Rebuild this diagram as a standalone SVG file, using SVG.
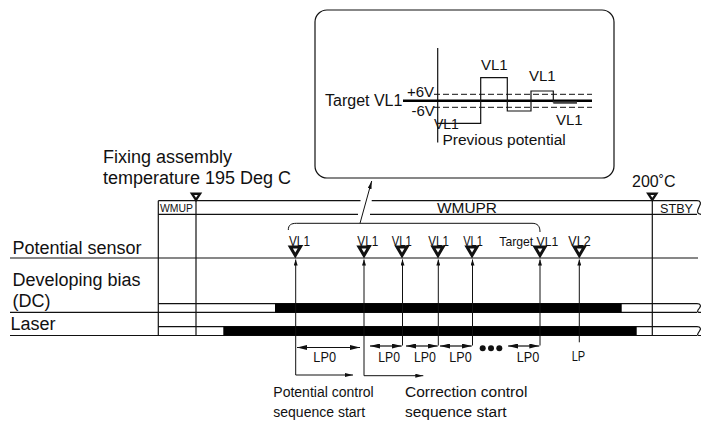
<svg xmlns="http://www.w3.org/2000/svg" width="704" height="421" viewBox="0 0 704 421">
<style>
text{font-family:"Liberation Sans",Arial,sans-serif;fill:#111}
.lbl{font-size:18px}
.sm{font-size:15px}
.ln{stroke:#111;stroke-width:1.2;fill:none}
.thin{stroke:#111;stroke-width:1;fill:none}
.tri{fill:#fff;stroke:#111;stroke-width:3;stroke-linejoin:miter}
.tris{fill:#fff;stroke:#111;stroke-width:2.4;stroke-linejoin:miter}
.bar{fill:#000}
</style>
<defs>
<marker id="up" viewBox="0 0 6 4" refX="6" refY="2" markerWidth="6" markerHeight="4" markerUnits="userSpaceOnUse" orient="auto"><path d="M0,0 L6,2 L0,4 z" fill="#111"/></marker>
<marker id="dbl" viewBox="0 0 10 5" refX="10" refY="2.5" markerWidth="10" markerHeight="5" markerUnits="userSpaceOnUse" orient="auto-start-reverse"><path d="M0,0 L10,2.5 L0,5 z" fill="#111"/></marker>
<marker id="ah" viewBox="0 0 8 4" refX="8" refY="2" markerWidth="8" markerHeight="4" markerUnits="userSpaceOnUse" orient="auto"><path d="M0,0 L8,2 L0,4 z" fill="#111"/></marker>
<polygon id="tri" points="-5,0 5,0 0,8.5"/>
<polygon id="trs" points="-4,0 4,0 0,6"/>
</defs>

<!-- inset -->
<g id="inset">
<rect x="315" y="10" width="299" height="168" rx="12" class="ln"/>
<line x1="437.7" y1="48" x2="437.7" y2="142.5" class="ln"/>
<line x1="403" y1="100.7" x2="592" y2="100.7" stroke="#000" stroke-width="2.6"/>
<line x1="434" y1="94.3" x2="592" y2="94.3" class="thin" stroke-dasharray="6,3"/>
<line x1="434" y1="107.3" x2="592" y2="107.3" class="thin" stroke-dasharray="6,3"/>
<path d="M437.7,123.3 H480.7 V77.7 H507.3 V111 H531 V91 H553.3 V102.5" class="ln"/>
<line x1="553.3" y1="102.6" x2="577" y2="102.6" stroke="#444" stroke-width="2.4"/>
<text x="325" y="106" font-size="16">Target VL1</text>
<text x="407" y="97" class="sm">+6V</text>
<text x="411.5" y="116" class="sm">-6V</text>
<text x="434" y="128.5" font-size="14">VL1</text>
<text x="442.5" y="145" font-size="15.5">Previous potential</text>
<text x="481" y="70" class="sm">VL1</text>
<text x="529" y="81" class="sm">VL1</text>
<text x="556" y="124.5" class="sm">VL1</text>
</g>

<!-- labels -->
<g id="labels">
<text x="103" y="163" class="lbl">Fixing assembly</text>
<text x="103" y="184" class="lbl">temperature 195 Deg C</text>
<text x="632" y="187" font-size="16">200˚C</text>
<text x="12.5" y="254" class="lbl">Potential sensor</text>
<text x="12.5" y="286" class="lbl">Developing bias</text>
<text x="12.5" y="306.5" class="lbl">(DC)</text>
<text x="10.5" y="330" class="lbl">Laser</text>
</g>

<!-- header row -->
<g id="header">
<path d="M158.3,200.7 H360.5 M371.7,200.7 H697 M158.3,214.3 H358 M370,214.3 H697" class="ln"/>
<path d="M697,200.7 C701,200.7 701,203.5 699.5,206 L698,209.5 C697,212 697.5,214.3 701,214.3" class="ln"/>
<use href="#trs" x="196" y="193.8" class="tris"/>
<use href="#trs" x="652.3" y="193.8" class="tris"/>
<text x="160" y="212.3" font-size="11" textLength="33" lengthAdjust="spacingAndGlyphs">WMUP</text>
<text x="437" y="212.7" font-size="14" textLength="60" lengthAdjust="spacingAndGlyphs">WMUPR</text>
<text x="660" y="212.7" font-size="13" textLength="33" lengthAdjust="spacingAndGlyphs">STBY</text>
</g>

<!-- grid and timelines -->
<g id="grid">
<line x1="158.3" y1="200.7" x2="158.3" y2="335.5" class="ln"/>
<line x1="196" y1="200" x2="196" y2="335.5" class="ln"/>
<line x1="652.3" y1="200" x2="652.3" y2="335.5" class="ln"/>
<line x1="10" y1="258" x2="698" y2="258" class="ln"/>
<path d="M158.3,303.7 H697 M10,312.3 H697 M158.3,326.7 H697 M10,335.5 H697" class="ln"/>
<path d="M697,303.7 C701,303.7 701,306 699.5,308 L698,310 C697,312 697.5,312.3 701,312.3" class="ln"/>
<path d="M697,326.7 C701,326.7 701,329 699.5,331 L698,333.5 C697,335.5 697.5,335.5 701,335.5" class="ln"/>
<rect x="275" y="303.5" width="346.7" height="9" class="bar"/>
<rect x="223.3" y="326.5" width="413.4" height="9" class="bar"/>
</g>

<!-- sensor markers -->
<g id="sensor">
<use href="#tri" x="295.3" y="247" class="tri"/>
<use href="#tri" x="364" y="247" class="tri"/>
<use href="#tri" x="402" y="247" class="tri"/>
<use href="#tri" x="438" y="247" class="tri"/>
<use href="#tri" x="472" y="247" class="tri"/>
<use href="#tri" x="540" y="247" class="tri"/>
<use href="#tri" x="579.3" y="247" class="tri"/>
<text x="289" y="245.5" class="sm" textLength="21" lengthAdjust="spacingAndGlyphs">VL1</text>
<text x="357.3" y="245.5" class="sm" textLength="21" lengthAdjust="spacingAndGlyphs">VL1</text>
<text x="391.7" y="245.5" class="sm" textLength="20" lengthAdjust="spacingAndGlyphs">VL1</text>
<text x="428.3" y="245.5" class="sm" textLength="20.7" lengthAdjust="spacingAndGlyphs">VL1</text>
<text x="463.3" y="245.5" class="sm" textLength="19.5" lengthAdjust="spacingAndGlyphs">VL1</text>
<text x="499.3" y="245.5" font-size="13.5" textLength="59" lengthAdjust="spacingAndGlyphs">Target VL1</text>
<text x="568.3" y="245.5" class="sm" textLength="22.4" lengthAdjust="spacingAndGlyphs">VL2</text>
</g>

<!-- connectors -->
<g id="connectors">
<path d="M288.3,230 C288.3,225 291,223.3 296.7,223.3 H532 C537.5,223.3 540,226 540,232" class="thin"/>
<line x1="360" y1="223.3" x2="371.7" y2="181" class="thin" marker-end="url(#ah)"/>
<line x1="295.7" y1="375" x2="295.7" y2="259.5" class="thin" marker-end="url(#up)"/>
<line x1="295.7" y1="375" x2="353" y2="375" class="thin" marker-end="url(#ah)"/>
<line x1="364" y1="375.7" x2="364" y2="259.5" class="thin" marker-end="url(#up)"/>
<line x1="364" y1="375.7" x2="423.3" y2="375.7" class="thin" marker-end="url(#ah)"/>
<line x1="402.5" y1="345.5" x2="402.5" y2="259.5" class="thin" marker-end="url(#up)"/>
<line x1="438.3" y1="345.5" x2="438.3" y2="259.5" class="thin" marker-end="url(#up)"/>
<line x1="472.5" y1="345.5" x2="472.5" y2="259.5" class="thin" marker-end="url(#up)"/>
<line x1="540" y1="345.5" x2="540" y2="259.5" class="thin" marker-end="url(#up)"/>
<line x1="579.3" y1="342.3" x2="579.3" y2="259.5" class="thin" marker-end="url(#up)"/>
<line x1="297" y1="347.5" x2="360" y2="347.5" class="ln" marker-start="url(#dbl)" marker-end="url(#dbl)"/>
<line x1="370" y1="346" x2="401.7" y2="346" class="ln" marker-start="url(#dbl)" marker-end="url(#dbl)"/>
<line x1="406" y1="346" x2="437.7" y2="346" class="ln" marker-start="url(#dbl)" marker-end="url(#dbl)"/>
<line x1="440" y1="346" x2="471.7" y2="346" class="ln" marker-start="url(#dbl)" marker-end="url(#dbl)"/>
<line x1="508" y1="346" x2="539.3" y2="346" class="ln" marker-start="url(#dbl)" marker-end="url(#dbl)"/>
<circle cx="482.7" cy="348.3" r="3" fill="#111"/>
<circle cx="491" cy="348.3" r="3" fill="#111"/>
<circle cx="499.3" cy="348.3" r="3" fill="#111"/>
</g>

<!-- bottom labels -->
<g id="bottom">
<text x="313.3" y="362" class="sm" textLength="22.7" lengthAdjust="spacingAndGlyphs">LP0</text>
<text x="378.3" y="362" class="sm" textLength="21.7" lengthAdjust="spacingAndGlyphs">LP0</text>
<text x="414" y="362" class="sm" textLength="22" lengthAdjust="spacingAndGlyphs">LP0</text>
<text x="449.3" y="362" class="sm" textLength="22.4" lengthAdjust="spacingAndGlyphs">LP0</text>
<text x="516.7" y="362" class="sm" textLength="22.6" lengthAdjust="spacingAndGlyphs">LP0</text>
<text x="571.7" y="361" class="sm" textLength="13.5" lengthAdjust="spacingAndGlyphs">LP</text>
<text x="273.3" y="397" font-size="14">Potential control</text>
<text x="273.3" y="416.5" font-size="14">sequence start</text>
<text x="405" y="397" font-size="15.5">Correction control</text>
<text x="405" y="416.5" font-size="15.5">sequence start</text>
</g>
</svg>
